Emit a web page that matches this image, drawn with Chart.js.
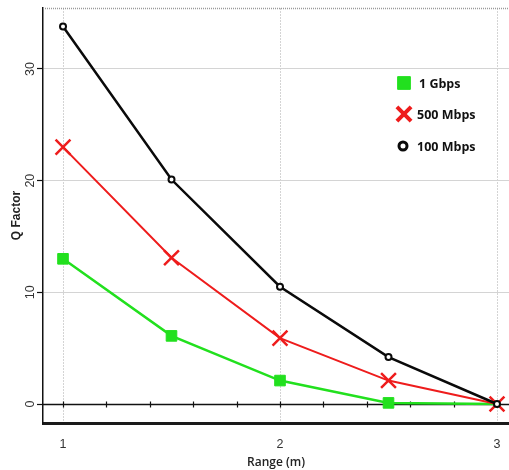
<!DOCTYPE html>
<html>
<head>
<meta charset="utf-8">
<script src="https://cdn.jsdelivr.net/npm/chart.js@4/dist/chart.umd.min.js"></script>
<style>
  html, body { margin: 0; padding: 0; background: #fff; overflow: hidden; }
  #wrap { width: 509px; height: 470px; overflow: hidden; }
  canvas { display: block; }
</style>
</head>
<body>
<div id="wrap"><canvas id="c" width="509" height="470"></canvas></div>
<script>
// ---- data ----
const ranges = [1, 1.5, 2, 2.5, 3];
const q1Gbps = [13.0, 6.1, 2.1, 0.1, 0];
const q500Mbps = [23.0, 13.1, 5.9, 2.1, 0];
const q100Mbps = [33.8, 20.1, 10.5, 4.2, 0];
const seriesLabels = ['1 Gbps', '500 Mbps', '100 Mbps'];
const xTickValues = [1, 2, 3];
const yTickValues = [0, 10, 20, 30];

const toPts = (ys) => ranges.map((x, i) => ({ x: x, y: ys[i] }));

const extras = {
  id: 'extras',
  beforeDatasetsDraw(chart) {
    const { ctx, chartArea, scales } = chart;
    const x = scales.x, y = scales.y;
    ctx.save();
    // top dotted border
    ctx.strokeStyle = '#9a9a9a';
    ctx.lineWidth = 1.5;
    ctx.setLineDash([1, 1]);
    ctx.beginPath();
    ctx.moveTo(chartArea.left, chartArea.top + 0.5);
    ctx.lineTo(chart.width, chartArea.top + 0.5);
    ctx.stroke();
    ctx.setLineDash([]);
    // zero axis line
    const y0 = Math.round(y.getPixelForValue(0)) + 0.5;
    ctx.strokeStyle = '#111';
    ctx.lineWidth = 1.5;
    ctx.beginPath();
    ctx.moveTo(chartArea.left, y0);
    ctx.lineTo(chart.width, y0);
    ctx.stroke();
    // minor ticks on zero line every 0.2
    ctx.lineWidth = 1.2;
    for (let i = 0; i <= 10; i++) {
      const v = 1 + i * 0.2;
      const px = Math.round(x.getPixelForValue(v)) + 0.5;
      ctx.beginPath();
      ctx.moveTo(px, y0 - 3);
      ctx.lineTo(px, y0 + 3);
      ctx.stroke();
    }
    ctx.restore();
  },
  afterDatasetsDraw(chart) {
    const { ctx } = chart;
    const items = [
      { ds: chart.data.datasets[0], cx: 404, cy: 83, r: 9, bw: 1 },
      { ds: chart.data.datasets[1], cx: 404, cy: 114, r: 10, bw: 4 },
      { ds: chart.data.datasets[2], cx: 403, cy: 146, r: 4, bw: 3 }
    ];
    ctx.save();
    items.forEach((it) => {
      const ds = it.ds;
      ctx.fillStyle = ds.pointBackgroundColor;
      ctx.strokeStyle = ds.pointBorderColor;
      ctx.lineWidth = it.bw;
      Chart.helpers.drawPoint(ctx, { pointStyle: ds.pointStyle, rotation: 0, radius: it.r, borderWidth: it.bw }, it.cx, it.cy);
      ctx.fillStyle = '#111';
      ctx.font = 'bold 12.5px "Open Sans", "Liberation Sans", sans-serif';
      ctx.textAlign = 'left';
      ctx.textBaseline = 'middle';
      ctx.fillText(ds.label, ds.label === '1 Gbps' ? 419 : 417, it.cy + 1);
    });
    ctx.restore();
  }
};

new Chart(document.getElementById('c'), {
  type: 'line',
  data: {
    datasets: [
      {
        label: seriesLabels[0],
        data: toPts(q1Gbps),
        borderColor: '#22e01e',
        backgroundColor: '#22e01e',
        pointBackgroundColor: '#22e01e',
        pointBorderColor: '#22e01e',
        pointStyle: 'rect',
        pointRadius: [7.5, 7.5, 7.5, 7.5, 0],
        pointBorderWidth: 1,
        borderWidth: 2.5,
        order: 2
      },
      {
        label: seriesLabels[1],
        data: toPts(q500Mbps),
        borderColor: '#ee1c1c',
        backgroundColor: '#ee1c1c',
        pointBackgroundColor: '#ee1c1c',
        pointBorderColor: '#ee1c1c',
        pointStyle: 'crossRot',
        pointRadius: 10.5,
        pointBorderWidth: 2.5,
        borderWidth: 2,
        order: 1
      },
      {
        label: seriesLabels[2],
        data: toPts(q100Mbps),
        borderColor: '#0a0a0a',
        backgroundColor: '#ffffff',
        pointBackgroundColor: '#ffffff',
        pointBorderColor: '#0a0a0a',
        pointStyle: 'circle',
        pointRadius: 3,
        pointBorderWidth: 2,
        borderWidth: 2.5,
        order: 0
      }
    ]
  },
  options: {
    responsive: false,
    animation: false,
    clip: false,
    layout: { autoPadding: false, padding: { top: 8, right: 0, left: 0, bottom: 0 } },
    plugins: { legend: { display: false }, tooltip: { enabled: false } },
    scales: {
      x: {
        type: 'linear',
        min: 0.9078,
        max: 3.0553,
        afterBuildTicks: (s) => { s.ticks = xTickValues.map((v) => ({ value: v })); },
        afterFit: (s) => { s.height = 47; s.paddingLeft = 0; s.paddingRight = 0; },
        ticks: {
          color: '#333',
          font: { family: '"Liberation Sans", Arial, sans-serif', size: 12.5 },
          padding: 14,
          maxRotation: 0
        },
        grid: { color: '#d4d4d4', lineWidth: 1, drawTicks: false },
        border: { color: '#1a1a1a', width: 3, dash: [2, 1] },
        title: {
          display: true,
          text: 'Range (m)',
          color: '#222',
          font: { family: '"Open Sans", "Liberation Sans", sans-serif', size: 12, weight: '600' },
          padding: { top: 0, bottom: 0 }
        }
      },
      y: {
        type: 'linear',
        min: -1.70,
        max: 35.46,
        afterBuildTicks: (s) => { s.ticks = yTickValues.map((v) => ({ value: v })); },
        afterFit: (s) => { s.width = 43; s.paddingTop = 0; s.paddingBottom = 0; },
        ticks: {
          color: '#333',
          font: { family: '"Liberation Sans", Arial, sans-serif', size: 12.5 },
          padding: 0,
          minRotation: 90,
          maxRotation: 90,
          crossAlign: 'center'
        },
        grid: {
          color: (c) => (c.tick && c.tick.value === 0 ? 'rgba(0,0,0,0)' : '#d4d4d4'),
          lineWidth: 1,
          tickLength: 6,
          tickColor: '#111',
          tickWidth: 1.2
        },
        border: { color: '#111', width: 1.5 },
        title: {
          display: true,
          text: 'Q Factor',
          color: '#222',
          font: { family: '"Liberation Sans", Arial, sans-serif', size: 12, weight: 'bold' },
          padding: { top: 9, bottom: 0 }
        }
      }
    }
  },
  plugins: [extras]
});
</script>
</body>
</html>
